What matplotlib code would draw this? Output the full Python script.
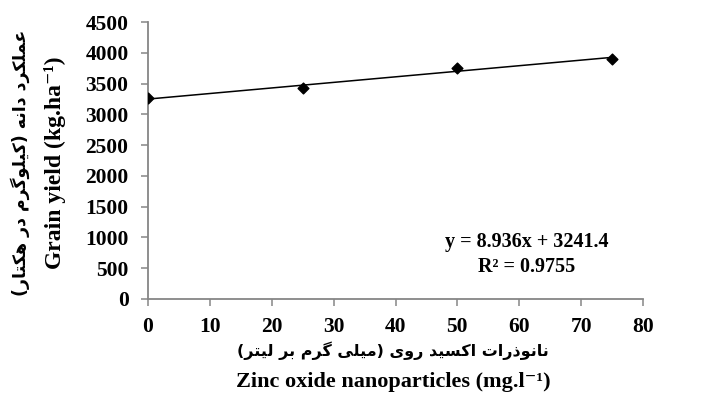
import numpy as np
import matplotlib
matplotlib.use("Agg")
import matplotlib.pyplot as plt

# data
zno_dose = [0, 25, 50, 75]
grain_yield = [3262, 3425, 3755, 3905]
x_ticks = list(range(0, 81, 10))
y_ticks = list(range(0, 4501, 500))

fa_ylabel = "عملکرد دانه (کیلوگرم در هکتار)"
en_ylabel = "Grain yield (kg.ha⁻¹)"
fa_xlabel = "نانوذرات اکسید روی (میلی گرم بر لیتر)"
en_xlabel = "Zinc oxide nanoparticles (mg.l⁻¹)"

# minimal persian shaping (matplotlib has no bidi / joining support)
FORMS = {
    "ا": ("\uFE8D", "\uFE8E", None, None),
    "ب": ("\uFE8F", "\uFE90", "\uFE91", "\uFE92"),
    "ت": ("\uFE95", "\uFE96", "\uFE97", "\uFE98"),
    "د": ("\uFEA9", "\uFEAA", None, None),
    "ذ": ("\uFEAB", "\uFEAC", None, None),
    "ر": ("\uFEAD", "\uFEAE", None, None),
    "ز": ("\uFEAF", "\uFEB0", None, None),
    "س": ("\uFEB1", "\uFEB2", "\uFEB3", "\uFEB4"),
    "ع": ("\uFEC9", "\uFECA", "\uFECB", "\uFECC"),
    "ل": ("\uFEDD", "\uFEDE", "\uFEDF", "\uFEE0"),
    "م": ("\uFEE1", "\uFEE2", "\uFEE3", "\uFEE4"),
    "ن": ("\uFEE5", "\uFEE6", "\uFEE7", "\uFEE8"),
    "ه": ("\uFEE9", "\uFEEA", "\uFEEB", "\uFEEC"),
    "و": ("\uFEED", "\uFEEE", None, None),
    "ی": ("\uFBFC", "\uFBFD", "\uFBFE", "\uFBFF"),
    "ک": ("\uFB8E", "\uFB8F", "\uFB90", "\uFB91"),
    "گ": ("\uFB92", "\uFB93", "\uFB94", "\uFB95"),
}


def shape(text):
    out = []
    n = len(text)
    for i, ch in enumerate(text):
        if ch not in FORMS:
            out.append(ch)
            continue
        prev = text[i - 1] if i > 0 else ""
        nxt = text[i + 1] if i < n - 1 else ""
        join_prev = prev in FORMS and FORMS[prev][2] is not None
        join_next = nxt in FORMS and FORMS[ch][2] is not None
        iso, fin, ini, med = FORMS[ch]
        if join_prev and join_next:
            out.append(med)
        elif join_prev:
            out.append(fin)
        elif join_next:
            out.append(ini)
        else:
            out.append(iso)
    swap = {"(": ")", ")": "("}
    return "".join(swap.get(c, c) for c in reversed(out))


serif = ["Liberation Serif", "DejaVu Serif"]
fa_font = "DejaVu Sans"


def fy(px):
    # pixel row from the top -> figure fraction
    return 1 - px / 398


fig = plt.figure(figsize=(7.1, 3.98), dpi=100)
ax = fig.add_axes([148 / 710, fy(299), 495 / 710, 277 / 398])

slope, intercept = np.polyfit(zno_dose, grain_yield, 1)
fit_x = np.array([min(zno_dose), max(zno_dose)])
ax.plot(fit_x, slope * fit_x + intercept, color="black", lw=1.1, zorder=2)
ax.scatter(zno_dose, grain_yield, marker="D", s=30, color="black", zorder=3)

ax.set_xlim(0, 80)
ax.set_ylim(0, 4500)
ax.set_xticks(x_ticks)
ax.set_yticks(y_ticks)
for side in ["top", "right"]:
    ax.spines[side].set_visible(False)
for side in ["left", "bottom"]:
    ax.spines[side].set_color("#868686")
    ax.spines[side].set_linewidth(1.3)
ax.tick_params(colors="#868686", length=5, width=1.1, direction="out")
ax.tick_params(axis="x", pad=8)
ax.tick_params(axis="y", pad=9)
for lab in ax.get_xticklabels() + ax.get_yticklabels():
    lab.set_fontfamily(serif)
    lab.set_fontweight("bold")
    lab.set_fontsize(15.5)
    lab.set_color("black")

fig.text(527 / 710, fy(242), "y = 8.936x + 3241.4", ha="center",
         va="center", family=serif, weight="bold", fontsize=14.5)
fig.text(527 / 710, fy(267), "R² = 0.9755", ha="center",
         va="center", family=serif, weight="bold", fontsize=14.5)

# axis titles
fig.text(20 / 710, fy(163), shape(fa_ylabel), rotation=90, ha="center",
         va="center", family=fa_font, weight="bold", fontsize=12.5)
fig.text(55 / 710, fy(163), en_ylabel, rotation=90, ha="center",
         va="center", family=serif, weight="bold", fontsize=17)
fig.text(393 / 710, fy(351), shape(fa_xlabel), ha="center",
         va="center", family=fa_font, weight="bold", fontsize=11.5)
fig.text(393 / 710, fy(382), en_xlabel, ha="center",
         va="center", family=serif, weight="bold", fontsize=16)

fig.savefig("out.png", dpi=100)
